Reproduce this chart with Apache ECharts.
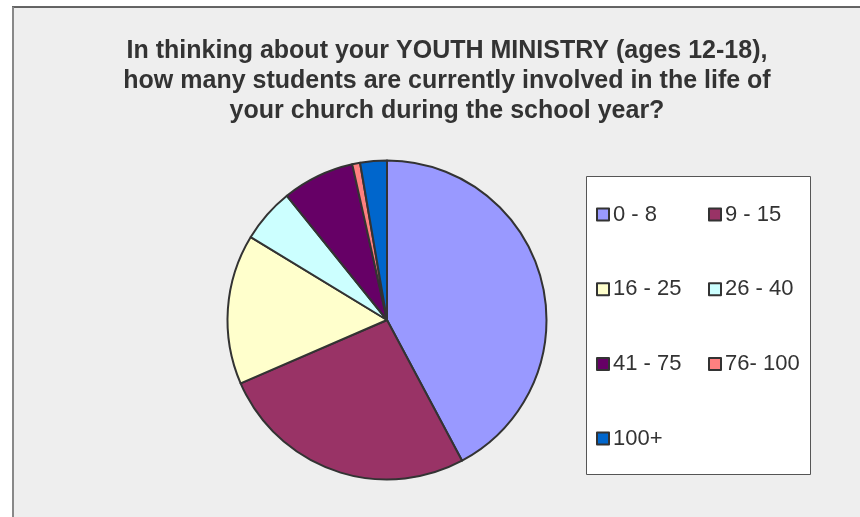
<!DOCTYPE html>
<html>
<head>
<meta charset="utf-8">
<script src="https://cdn.jsdelivr.net/npm/echarts@6/dist/echarts.min.js"></script>
<style>html,body{margin:0;padding:0;background:#fff}#c{width:860px;height:517px}</style>
</head>
<body>
<div id="c"></div>
<script>
const titleText = "In thinking about your YOUTH MINISTRY (ages 12-18),\nhow many students are currently involved in the life of\nyour church during the school year?";
const categories = ["0 - 8", "9 - 15", "16 - 25", "26 - 40", "41 - 75", "76- 100", "100+"];
const values = [42.2, 26.3, 15.2, 5.5, 7.3, 0.8, 2.7];
const colors = ["#9999FF", "#993366", "#FFFFCC", "#CCFFFF", "#660066", "#FF8080", "#0066CC"];
const legendCol1 = ["0 - 8", "16 - 25", "41 - 75", "100+"];
const legendCol2 = ["9 - 15", "26 - 40", "76- 100"];

const chart = echarts.init(document.getElementById('c'), null, {renderer: 'canvas'});
const font = "'Liberation Sans', Arial, Helvetica, sans-serif";
const legendBase = {
  orient: 'vertical',
  itemWidth: 12,
  itemHeight: 12,
  itemGap: 50.7,
  icon: 'rect',
  selectedMode: false,
  itemStyle: {borderColor: '#333', borderWidth: 2},
  textStyle: {fontFamily: font, fontSize: 22, color: '#333', lineHeight: 24, padding: [0,0,0,-1]},
  padding: 0
};
chart.setOption({
  backgroundColor: '#ffffff',
  color: colors,
  animation: false,
  graphic: [
    {type: 'rect', z: -10, shape: {x: 12, y: 7, width: 900, height: 600}, style: {fill: '#eeeeee'}},
    {type: 'line', z: -9, shape: {x1: 12, y1: 7, x2: 900, y2: 7}, style: {stroke: '#333', lineWidth: 1.5}},
    {type: 'line', z: -9, shape: {x1: 13, y1: 7, x2: 13, y2: 600}, style: {stroke: '#888', lineWidth: 2}},
    {type: 'rect', z: 1, shape: {x: 586.5, y: 176.5, width: 224, height: 298}, style: {fill: '#ffffff', stroke: '#555', lineWidth: 1}}
  ],
  title: {
    text: titleText,
    left: 442,
    textAlign: 'center',
    top: 31,
    textStyle: {fontFamily: font, fontSize: 25, fontWeight: 'bold', color: '#333', lineHeight: 30}
  },
  legend: [
    Object.assign({}, legendBase, {data: legendCol1, left: 596, top: 202.5}),
    Object.assign({}, legendBase, {data: legendCol2, left: 708, top: 202.5})
  ],
  series: [{
    type: 'pie',
    center: [387, 320],
    radius: 159.5,
    startAngle: 90,
    clockwise: true,
    label: {show: false},
    labelLine: {show: false},
    emphasis: {disabled: true},
    itemStyle: {borderColor: '#333', borderWidth: 2},
    data: categories.map((c, i) => ({name: c, value: values[i]}))
  }]
});
</script>
</body>
</html>
